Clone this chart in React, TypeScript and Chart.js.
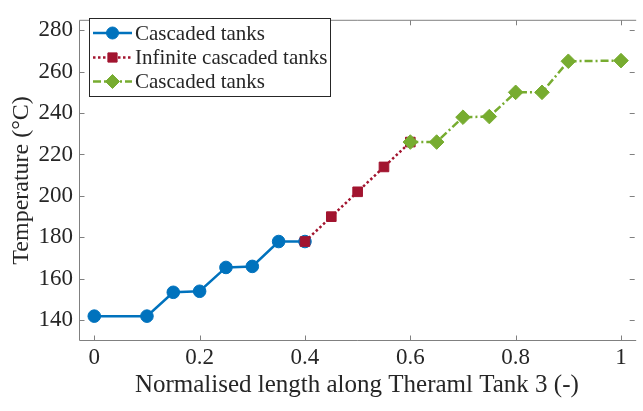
import React, { useEffect, useRef } from 'react';
import { Chart, registerables } from 'chart.js';

Chart.register(...registerables);

// ---- data ----
const xCascadedA = [0, 0.1, 0.15, 0.2, 0.25, 0.3, 0.35, 0.4];
const yCascadedA = [142, 142, 153.5, 154, 165.5, 166, 178, 178];
const xInfinite = [0.4, 0.45, 0.5, 0.55, 0.6];
const yInfinite = [178, 190, 202, 214, 226];
const xCascadedB = [0.6, 0.65, 0.7, 0.75, 0.8, 0.85, 0.9, 1.0];
const yCascadedB = [226, 226, 238, 238.3, 250, 250, 265, 265.3];
const seriesLabels = ['Cascaded tanks', 'Infinite cascaded tanks', 'Cascaded tanks'];
const xTickValues = [0, 0.2, 0.4, 0.6, 0.8, 1];
const yTickValues = [140, 160, 180, 200, 220, 240, 260, 280];
const xTitle = 'Normalised length along Theraml Tank 3 (-)';
const yTitle = 'Temperature (\u00B0C)';

const FONT = '"Liberation Serif", "Times New Roman", serif';
const TEXT = '#262626';
const AXIS = '#808080';

Chart.defaults.font.family = FONT;

const toPts = (xs: number[], ys: number[]) => xs.map((x, i) => ({ x, y: ys[i] }));

function drawMarker(ctx: CanvasRenderingContext2D, style: string, x: number, y: number, r: number, color: string) {
  ctx.save();
  ctx.fillStyle = color;
  ctx.strokeStyle = color;
  ctx.lineWidth = 1;
  ctx.setLineDash([]);
  ctx.beginPath();
  if (style === 'circle') {
    ctx.arc(x, y, r, 0, Math.PI * 2);
  } else if (style === 'rect') {
    const s = Math.SQRT1_2 * r;
    ctx.rect(x - s, y - s, 2 * s, 2 * s);
  } else {
    ctx.moveTo(x - r, y);
    ctx.lineTo(x, y - r);
    ctx.lineTo(x + r, y);
    ctx.lineTo(x, y + r);
    ctx.closePath();
  }
  ctx.fill();
  ctx.stroke();
  ctx.restore();
}

const framePlugin = {
  id: 'frame',
  beforeDatasetsDraw(chart: any) {
    const { ctx, chartArea } = chart;
    const { left, right, top, bottom } = chartArea;
    const xs = chart.scales.x;
    const ys = chart.scales.y;
    const L = left + 0.5, T = top + 0.5, B = bottom - 0.5, R = right - 0.5;
    ctx.save();
    ctx.strokeStyle = AXIS;
    ctx.lineWidth = 1;
    ctx.beginPath();
    ctx.moveTo(R + 2, T);
    ctx.lineTo(L, T);
    ctx.lineTo(L, B);
    ctx.lineTo(R + 2, B);
    const tl = 5;
    xTickValues.forEach((v) => {
      const px = Math.round(xs.getPixelForValue(v)) + 0.5;
      ctx.moveTo(px, B);
      ctx.lineTo(px, B - tl);
      ctx.moveTo(px, T);
      ctx.lineTo(px, T + tl);
    });
    yTickValues.forEach((v) => {
      const py = Math.round(ys.getPixelForValue(v)) + 0.5;
      ctx.moveTo(L, py);
      ctx.lineTo(L + tl, py);
      ctx.moveTo(right, py);
      ctx.lineTo(right - tl, py);
    });
    ctx.stroke();
    ctx.restore();
  },
};

const yTitlePlugin = {
  id: 'ytitle',
  afterDraw(chart: any) {
    const { ctx, chartArea } = chart;
    ctx.save();
    ctx.translate(22, (chartArea.top + chartArea.bottom) / 2);
    ctx.rotate(-Math.PI / 2);
    ctx.font = `24px ${FONT}`;
    ctx.fillStyle = TEXT;
    ctx.textAlign = 'center';
    ctx.textBaseline = 'middle';
    ctx.fillText(yTitle, 0, 0);
    ctx.restore();
  },
};

const legendPlugin = {
  id: 'customLegend',
  afterDraw(chart: any) {
    const { ctx } = chart;
    const bx = 89, by = 18, bw = 241, bh = 78;
    ctx.save();
    ctx.fillStyle = '#ffffff';
    ctx.fillRect(bx, by, bw, bh);
    ctx.strokeStyle = '#262626';
    ctx.lineWidth = 1;
    ctx.strokeRect(bx + 0.5, by + 0.5, bw, bh);
    const rows = [33, 57.5, 81.5];
    chart.data.datasets.forEach((ds: any, i: number) => {
      const y = rows[i];
      ctx.save();
      ctx.strokeStyle = ds.borderColor;
      ctx.lineWidth = ds.borderWidth;
      ctx.setLineDash(ds.borderDash || []);
      ctx.beginPath();
      ctx.moveTo(93, y);
      ctx.lineTo(132, y);
      ctx.stroke();
      ctx.restore();
      drawMarker(ctx, ds.pointStyle, 112.5, y, ds.legendRadius, ds.borderColor);
      ctx.font = `21px ${FONT}`;
      ctx.fillStyle = TEXT;
      ctx.textAlign = 'left';
      ctx.textBaseline = 'middle';
      ctx.fillText(ds.label, 135, y + 1);
    });
    ctx.restore();
  },
};

export default function App() {
  const ref = useRef<HTMLCanvasElement>(null);
  useEffect(() => {
    const canvas = ref.current!;
    const datasets: any[] = [
      {
        label: seriesLabels[0],
        data: toPts(xCascadedA, yCascadedA),
        borderColor: '#0072BD',
        backgroundColor: '#0072BD',
        pointBackgroundColor: '#0072BD',
        pointBorderColor: '#0072BD',
        borderWidth: 2.5,
        pointStyle: 'circle',
        pointRadius: 6.3,
        pointBorderWidth: 1,
        legendRadius: 6,
        order: 3,
      },
      {
        label: seriesLabels[1],
        data: toPts(xInfinite, yInfinite),
        borderColor: '#A2142F',
        backgroundColor: '#A2142F',
        pointBackgroundColor: '#A2142F',
        pointBorderColor: '#A2142F',
        borderWidth: 2.5,
        borderDash: [2.5, 2.5],
        pointStyle: 'rect',
        pointRadius: 6.8,
        pointBorderWidth: 1,
        legendRadius: 6.5,
        order: 2,
      },
      {
        label: seriesLabels[2],
        data: toPts(xCascadedB, yCascadedB),
        borderColor: '#77AC30',
        backgroundColor: '#77AC30',
        pointBackgroundColor: '#77AC30',
        pointBorderColor: '#77AC30',
        borderWidth: 2.5,
        borderDash: [8, 3, 2, 3],
        pointStyle: 'rectRot',
        pointRadius: 7.3,
        pointBorderWidth: 1,
        legendRadius: 7,
        order: 1,
      },
    ];
    const chart = new Chart(canvas, {
      type: 'line',
      data: { datasets },
      options: {
        responsive: false,
        maintainAspectRatio: false,
        animation: false,
        layout: { padding: { top: 9, right: 0, left: 0, bottom: 0 } },
        elements: { line: { tension: 0, fill: false } },
        plugins: { legend: { display: false }, tooltip: { enabled: false } },
        scales: {
          x: {
            type: 'linear',
            min: -0.029,
            max: 1.026,
            grid: { display: false, drawTicks: false, tickLength: 0 },
            border: { display: false },
            afterBuildTicks: (s: any) => {
              s.ticks = xTickValues.map((v) => ({ value: v }));
            },
            afterFit: (s: any) => {
              s.height = 70;
            },
            ticks: {
              font: { family: FONT, size: 23 },
              color: TEXT,
              padding: 3,
              maxRotation: 0,
              autoSkip: false,
              callback: (v: any) => String(v),
            },
            title: {
              display: true,
              text: xTitle,
              font: { family: FONT, size: 25 },
              color: TEXT,
              padding: { top: 0, bottom: 11 },
            },
          },
          y: {
            type: 'linear',
            min: 130,
            max: 285,
            grid: { display: false, drawTicks: false, tickLength: 0 },
            border: { display: false },
            afterBuildTicks: (s: any) => {
              s.ticks = yTickValues.map((v) => ({ value: v }));
            },
            afterFit: (s: any) => {
              s.width = 79;
            },
            ticks: {
              font: { family: FONT, size: 23 },
              color: TEXT,
              padding: 6,
              autoSkip: false,
              callback: (v: any) => String(v),
            },
          },
        },
      } as any,
      plugins: [framePlugin, yTitlePlugin, legendPlugin],
    });
    return () => chart.destroy();
  }, []);
  return (
    <div style={{ position: 'fixed', left: 0, top: 0, width: 643, height: 411, background: '#ffffff' }}>
      <canvas ref={ref} width={643} height={411} style={{ display: 'block' }} />
    </div>
  );
}
